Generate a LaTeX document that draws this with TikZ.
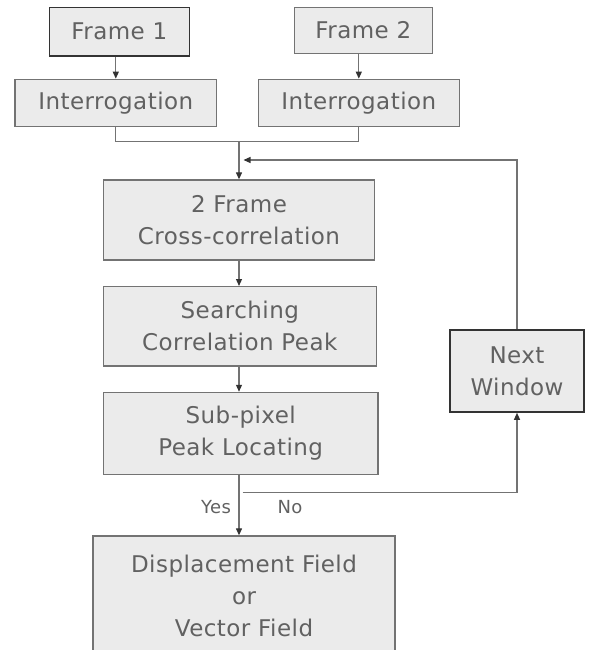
\documentclass[tikz,border=0pt]{standalone}
\usepackage{fontspec}
\setmainfont{DejaVu Sans}[LetterSpace=2]
\usetikzlibrary{arrows.meta}
\colorlet{box edge}{black!55}
\colorlet{box area}{black!8}
\colorlet{box text}{black!62}
\tikzset{block/.style={draw=box edge, fill=box area, line width=1.3pt, text=box text, align=center, inner sep=0pt, font=\fontsize{23}{32}\selectfont},
	darkblock/.style={block, draw=black!80, line width=1.6pt},
	link/.style={draw=black!55, line width=1.2pt},
	flow/.style={link, -{Triangle[length=7pt,width=6pt,black!80]}},
	tag/.style={text=box text, font=\fontsize{18}{20}\selectfont}}

\begin{document}
\begin{tikzpicture}[x=1pt,y=-1pt]
		\useasboundingbox (0,0) rectangle (590,650);
		\clip (0,0) rectangle (590,650);
		% input frames
		\node[darkblock, minimum width=140pt, minimum height=48.7pt] (f1) at (119.3,31.7) {Frame 1};
		\node[block, minimum width=138pt, minimum height=46pt] (f2) at (363.3,30.3) {Frame 2};
		\node[block, minimum width=201.7pt, minimum height=47.4pt] (i1) at (115.8,103) {Interrogation};
		\node[block, minimum width=201pt, minimum height=47.4pt] (i2) at (358.8,103) {Interrogation};
		% main column
		\node[block, minimum width=271pt, minimum height=80pt] (cc) at (239,220) {2 Frame\\Cross-correlation};
		\node[block, minimum width=272.7pt, minimum height=79.3pt] (sp) at (239.8,326.3) {Searching\\Correlation Peak};
		\node[block, minimum width=274.3pt, minimum height=82pt] (sub) at (240.7,433.4) {Sub-pixel\\Peak Locating};
		\node[block, minimum width=302pt, minimum height=120pt] (disp) at (244,596) {Displacement Field\\or\\Vector Field};
		\node[darkblock, minimum width=134pt, minimum height=82pt] (nw) at (517,371) {Next\\Window};
		
		\coordinate (join) at (239,141.7);
		\coordinate (back) at (243.5,160);
		\coordinate (nobranch) at (242.5,492.7);
		
		\draw[flow] (i1.north |- f1.south) -- (i1.north);
		\draw[flow] (i2.north |- f2.south) -- (i2.north);
		\draw[link] (i1.south) |- (join) -| (i2.south);
		\draw[flow] (join) -- (join |- cc.north);
		\draw[flow] (join |- cc.south) -- (join |- sp.north);
		\draw[flow] (join |- sp.south) -- (join |- sub.north);
		\draw[flow] (join |- sub.south) -- (join |- disp.north);
		\draw[flow] (nw.north) |- (back);
		\draw[flow] (nobranch) -| (nw.south);
		\node[tag] (yes) at (216,507) {Yes};
		\node[tag] (no) at (290,507) {No};
\end{tikzpicture}
\end{document}
